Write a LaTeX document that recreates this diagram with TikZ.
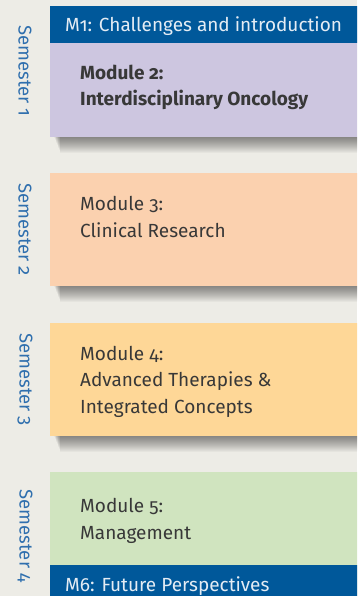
\documentclass[tikz,border=0pt]{standalone}
\usepackage{fontspec}
\setmainfont{Fira Sans}[Numbers=OldStyle]
\usepackage{xcolor}

\definecolor{bgGray}{HTML}{EDECE6}
\definecolor{bandBlue}{HTML}{00589A}
\definecolor{semBlue}{HTML}{2F6FAE}
\definecolor{modLilac}{HTML}{CDC6E0}
\definecolor{modPeach}{HTML}{FBD1AF}
\definecolor{modYellow}{HTML}{FED797}
\definecolor{modGreen}{HTML}{D0E4BF}
\definecolor{modText}{HTML}{383838}
\definecolor{bandText}{HTML}{E4ECF4}

% soft shadow under a module box
\newcommand{\modshadow}[1]{%
	\foreach \k in {1,...,16}
		\fill[black, opacity=0.03] ([xshift=4pt+0.4*\k pt]#1.south west) rectangle ([yshift=-\k pt]#1.south east);}

\begin{document}
\begin{tikzpicture}[x=1pt, y=1pt]
	\tikzset{
		modbox/.style={anchor=north west, inner sep=0pt, minimum width=320pt},
		band/.style={anchor=north west, inner sep=0pt, minimum width=320pt, fill=bandBlue},
		bandlabel/.style={anchor=base west, inner sep=0pt, text=bandText, font=\fontsize{19}{22}\selectfont},
		modlabel/.style={anchor=base west, inner sep=0pt, align=left, text=modText, font=\fontsize{19}{26.5}\selectfont},
		semlabel/.style={rotate=-90, inner sep=0pt, text=semBlue, font=\fontsize{18.5}{22}\selectfont}
	}
	
	\useasboundingbox (0, 0) rectangle (357, -596);
	\clip (0, 0) rectangle (357, -596);
	\fill[bgGray] (0, 0) rectangle (357, -596);
	
	%Semester 1
	\node[modbox, fill=modLilac, minimum height=131pt] (m2) at (50, -6) {};
	\modshadow{m2}
	\node[band, minimum height=37pt] (m1) at (50, -6) {};
	\node[bandlabel] (m1text) at (65, -32) {M1: Challenges and introduction};
	\node[modlabel, font=\fontsize{19}{26.5}\selectfont\bfseries] (m2text) at (80, -106) {Module 2:\\Interdisciplinary Oncology};
	\node[semlabel] (sem1) at (25, -71) {Semester 1};
	
	%Semester 2
	\node[modbox, fill=modPeach, minimum height=113pt] (m3) at (50, -173) {};
	\modshadow{m3}
	\node[modlabel] (m3text) at (80, -237) {Module 3:\\Clinical Research};
	\node[semlabel] (sem2) at (25, -229.5) {Semester 2};
	
	%Semester 3
	\node[modbox, fill=modYellow, minimum height=113pt] (m4) at (50, -323) {};
	\modshadow{m4}
	\node[modlabel] (m4text) at (80, -413) {Module 4:\\Advanced Therapies \&\\Integrated Concepts};
	\node[semlabel] (sem3) at (25, -379.5) {Semester 3};
	
	%Semester 4
	\node[modbox, fill=modGreen, minimum height=140pt] (m5) at (50, -472) {};
	\node[band, minimum height=40pt] (m6) at (50, -565) {};
	\node[modlabel] (m5text) at (80, -539) {Module 5:\\Management};
	\node[bandlabel] (m6text) at (65, -591) {M6: Future Perspectives};
	\node[semlabel] (sem4) at (25, -536) {Semester 4};
\end{tikzpicture}
\end{document}
